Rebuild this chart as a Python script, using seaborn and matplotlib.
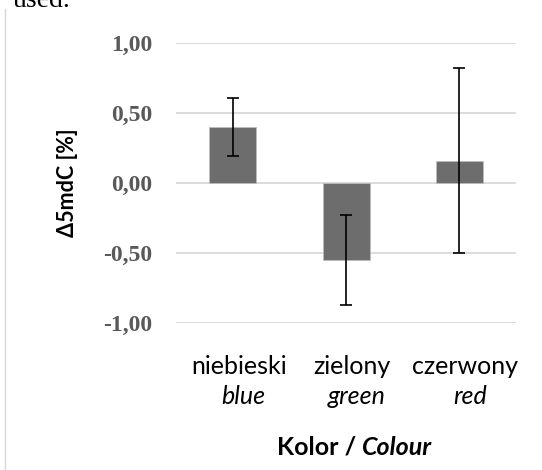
import matplotlib
matplotlib.use("Agg")
import matplotlib.pyplot as plt
import matplotlib.transforms as mtransforms
from matplotlib.lines import Line2D
from matplotlib.offsetbox import TextArea, HPacker, AnnotationBbox
import seaborn as sns
import pandas as pd

sns.set_theme(style="white")
plt.rcParams['font.family'] = ['Lato', 'DejaVu Sans']

# data
colours_pl = ['niebieski', 'zielony', 'czerwony']
colours_en = ['blue', 'green', 'red']
delta_5mdc = [0.40, -0.55, 0.16]
delta_err = [0.21, 0.32, 0.66]
y_ticks = [-1.0, -0.5, 0.0, 0.5, 1.0]

df = pd.DataFrame({'colour': colours_pl, 'delta': delta_5mdc})

fig = plt.figure(figsize=(5.42, 4.70), dpi=100)
ax = fig.add_axes([0.325, 0.3128, 0.627, 0.5957])

sns.barplot(data=df, x='colour', y='delta', color='#6d6d6d', saturation=1,
            width=0.415, edgecolor='#bdbdbd', linewidth=0.6, ax=ax)

# error bars at the bar centres
xs = [p.get_x() + p.get_width() / 2 for p in ax.patches]
ax.errorbar(xs, delta_5mdc, yerr=delta_err, fmt='none', ecolor='black',
            elinewidth=1.2, capsize=4, capthick=1.2, zorder=5)

ax.set_ylim(-1.0, 1.0)
ax.set_xlim(-0.5, 2.5)
ax.set_yticks(y_ticks)
ax.set_yticklabels([f"{v:.2f}".replace('.', ',') for v in y_ticks],
                   family='Liberation Serif', fontweight='bold', fontsize=17, color='#595959')
ax.tick_params(axis='y', length=0, pad=17)
ax.yaxis.grid(True, color='#d9d9d9', linewidth=1.3)
ax.set_axisbelow(True)
for s in ax.spines.values():
    s.set_visible(False)

# polish labels as tick labels, english in italics below
ax.set_xticks(range(len(colours_pl)))
ax.set_xticklabels(colours_pl, fontsize=18, color='black')
ax.tick_params(axis='x', length=0, pad=23)
shift = mtransforms.ScaledTranslation(6 / 100, 0, fig.dpi_scale_trans)
for lab in ax.get_xticklabels():
    lab.set_transform(lab.get_transform() + shift)

trans = mtransforms.blended_transform_factory(ax.transData, ax.transAxes)
for i, name in enumerate(colours_en):
    ax.text(i, -0.29, name, transform=trans + mtransforms.ScaledTranslation(11 / 100, 0, fig.dpi_scale_trans),
            ha='center', va='baseline', fontsize=18, style='italic', color='black')

ax.set_xlabel('')
ax.set_ylabel('Δ5mdC [%]', fontsize=15.5, fontweight='bold', color='black')
ax.yaxis.set_label_coords(-0.288, 0.5)

# x axis title: "Kolor / " bold, "Colour" bold italic
part1 = TextArea('Kolor / ', textprops=dict(fontsize=18, fontweight='bold', color='black'))
part2 = TextArea('Colour', textprops=dict(fontsize=18, fontweight='bold', style='italic', color='black'))
box = HPacker(children=[part1, part2], align='baseline', pad=0, sep=0)
ab = AnnotationBbox(box, (0.5, -0.443), xycoords='axes fraction', frameon=False,
                    box_alignment=(0.5, 0.5), xybox=(6, 0), boxcoords='offset points')
ax.add_artist(ab)

# page fragments: text cut at the top and the frame line on the left
fig.text(0.024, 0.985, 'used.', family='Liberation Serif', fontsize=20, va='baseline', color='black')
fig.add_artist(Line2D([0.009, 0.009], [0.0, 0.98], transform=fig.transFigure,
                      color='#d6d6d6', linewidth=1))

plt.savefig('out.png', dpi=100)
